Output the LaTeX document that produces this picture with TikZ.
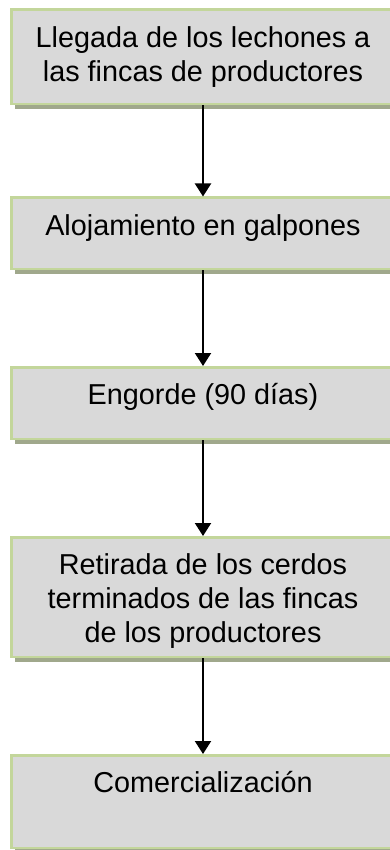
\documentclass[tikz,border=0pt]{standalone}
\usepackage{fontspec}
\setmainfont{Liberation Sans}
\usetikzlibrary{positioning,shadows,arrows.meta}

\definecolor{boxfill}{HTML}{D9D9D9}
\definecolor{boxline}{HTML}{C3D69B}
\definecolor{boxshade}{HTML}{A0A88C}

\newcommand{\stagetext}[1]{\begin{tabular}[t]{@{}c@{}}#1\end{tabular}}

\tikzset{
  stagebox/.style={draw=boxline, fill=boxfill, line width=2.5pt,
    minimum width=383.5pt, inner sep=0pt, text height=37.3pt,
    font={\fontsize{28.8pt}{34.2pt}\selectfont},
    drop shadow={shadow xshift=3.5pt, shadow yshift=-5pt, fill=boxshade, opacity=1}},
  flow/.style={-{Triangle[width=16pt,length=13pt]}, line width=2pt}
}

\begin{document}
\begin{tikzpicture}[node distance=96pt]
  \useasboundingbox (0,0) rectangle (390pt,-850pt);
  \node[stagebox, text depth=57.2pt, anchor=north] (arrival) at (203pt,-8.5pt) {\stagetext{Llegada de los lechones a\\las fincas de productores}};
  \node[stagebox, text depth=33.7pt, below=91pt of arrival] (housing) {\stagetext{Alojamiento en galpones}};
  \node[stagebox, text depth=34.2pt, below=of housing] (fattening) {\stagetext{Engorde (90 días)}};
  \node[stagebox, text depth=82.2pt, below=of fattening] (removal) {\stagetext{Retirada de los cerdos\\terminados de las fincas\\de los productores}};
  \node[stagebox, text depth=55.2pt, below=of removal] (market) {\stagetext{Comercialización}};

  \draw[flow] (arrival) -- (housing);
  \draw[flow] (housing) -- (fattening);
  \draw[flow] (fattening) -- (removal);
  \draw[flow] (removal) -- (market);
\end{tikzpicture}
\end{document}
